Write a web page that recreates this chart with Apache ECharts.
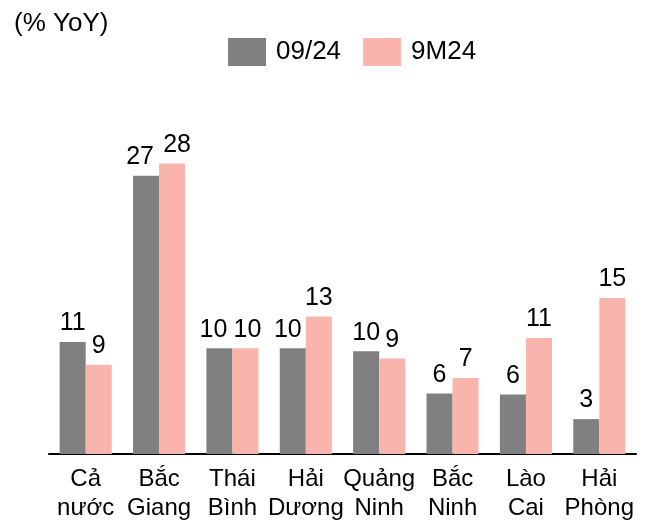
<!DOCTYPE html>
<html>
<head>
<meta charset="utf-8">
<script src="https://cdn.jsdelivr.net/npm/echarts@6/dist/echarts.min.js"></script>
<style>
  html, body { margin: 0; padding: 0; background: #fff; }
  #chart-container { width: 646px; height: 523px; }
</style>
</head>
<body>
<div id="chart-container"></div>
<script>
var categories = ['Cả\nnước', 'Bắc\nGiang', 'Thái\nBình', 'Hải\nDương', 'Quảng\nNinh', 'Bắc\nNinh', 'Lào\nCai', 'Hải\nPhòng'];
var monthValues = [10.9, 27.1, 10.3, 10.3, 10.0, 5.9, 5.8, 3.4];
var ytdValues = [8.7, 28.3, 10.3, 13.4, 9.3, 7.4, 11.3, 15.2];
var seriesNames = ['09/24', '9M24'];

var dom = document.getElementById('chart-container');
var myChart = echarts.init(dom, null, { renderer: 'canvas' });

var font = 'Liberation Sans, Arial, sans-serif';

// labels that sit close together get nudged apart, like in the original
var monthShift = [0, -6, -6, -5, 0, 0, 0, 0];
var ytdShift = [0, 5, 2, 0, 0, 0, 0, 0];

function withLabels(values, shift) {
    return values.map(function (v, i) {
        return { value: v, label: { offset: [shift[i], 0] } };
    });
}

var labelStyle = {
    show: true,
    position: 'top',
    distance: 6,
    color: '#000',
    fontSize: 25,
    fontFamily: font,
    formatter: function (p) { return Math.round(p.value); }
};

var option = {
    animation: false,
    title: {
        text: '(% YoY)',
        left: 9,
        top: 6,
        textStyle: { fontSize: 26, fontWeight: 'normal', color: '#000', fontFamily: font }
    },
    legend: {
        left: 223,
        top: 33,
        itemWidth: 38,
        itemHeight: 28,
        itemGap: 22,
        icon: 'rect',
        textStyle: { fontSize: 26, color: '#000', fontFamily: font, padding: [0, 0, 0, 5] },
        data: seriesNames
    },
    grid: { left: 49, right: 10, top: 146, bottom: 68 },
    xAxis: {
        type: 'category',
        data: categories,
        axisLine: { lineStyle: { color: '#000', width: 2 } },
        axisTick: { show: false },
        axisLabel: {
            color: '#000',
            fontSize: 24,
            fontFamily: font,
            lineHeight: 29,
            margin: 11,
            interval: 0
        }
    },
    yAxis: {
        type: 'value',
        min: 0,
        max: 30,
        show: false,
        splitLine: { show: false }
    },
    series: [
        {
            name: seriesNames[0],
            type: 'bar',
            data: withLabels(monthValues, monthShift),
            barGap: '0%',
            barCategoryGap: '29%',
            itemStyle: { color: '#808080' },
            label: labelStyle
        },
        {
            name: seriesNames[1],
            type: 'bar',
            data: withLabels(ytdValues, ytdShift),
            itemStyle: { color: '#F9B5AD' },
            label: labelStyle
        }
    ]
};

myChart.setOption(option);
window.addEventListener('resize', myChart.resize);
</script>
</body>
</html>
